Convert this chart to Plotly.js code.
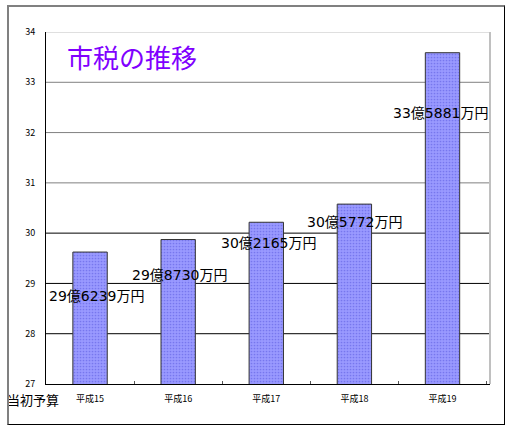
<!DOCTYPE html>
<html>
<head>
<meta charset="utf-8">
<script src="https://cdn.plot.ly/plotly-3.0.1.min.js"></script>
<style>
  html, body { margin: 0; padding: 0; background: #fff; }
  #wrap { position: relative; width: 511px; height: 429px; }
  #chart { position: absolute; left: 0; top: 0; width: 511px; height: 429px; }
  /* 3D-ish frame round the whole chart */
  #frame {
    position: absolute; left: 7px; top: 5px; width: 495px; height: 417px;
    border-top: 2px solid #808080; border-left: 2px solid #808080;
    border-right: 1px solid #000; border-bottom: 1px solid #000;
    pointer-events: none;
  }
</style>
</head>
<body>
<div id="wrap">
  <div id="chart"></div>
  <div id="frame"></div>
</div>
<script>
  "use strict";

  // data (億円)
  let years = ['平成15', '平成16', '平成17', '平成18', '平成19'];
  let amounts = [29.6239, 29.8730, 30.2165, 30.5772, 33.5881];
  let amountLabels = ['29億6239万円', '29億8730万円', '30億2165万円', '30億5772万円', '33億5881万円'];
  let yTicks = [27, 28, 29, 30, 31, 32, 33, 34];

  // label placement relative to the top of each bar, in pixels
  let labelShift = [[6, -44], [1, -35], [2, -21], [0, -18], [-2, -60]];

  let font = '"Noto Sans CJK JP", "Noto Sans", sans-serif';
  let labelFont = '"DejaVu Sans", "Noto Sans CJK JP", sans-serif';

  let trace = {
    type: 'bar',
    x: years,
    y: amounts,
    marker: {
      color: '#9999ff',
      line: {color: '#333333', width: 1},
      pattern: {shape: '.', fgcolor: '#7777ee', bgcolor: '#9999ff', size: 3, solidity: 0.25},
    },
    hoverinfo: 'none',
  };

  // grid lines: lower ones black, upper ones gray, top edge light gray
  let shapes = yTicks.slice(1).map(v => ({
    type: 'line', layer: 'below',
    xref: 'paper', x0: 0, x1: 1,
    yref: 'y', y0: v, y1: v,
    line: {color: v === 34 ? '#c0c0c0' : (v > 30 ? '#808080' : '#000000'), width: 1},
  }));
  // right edge of the plot area
  shapes.push({
    type: 'line', layer: 'below',
    xref: 'paper', x0: 1, x1: 1, yref: 'paper', y0: 0, y1: 1,
    line: {color: '#c0c0c0', width: 2},
  });

  let annotations = amountLabels.map((t, i) => ({
    x: years[i], y: amounts[i], xref: 'x', yref: 'y',
    text: t, showarrow: false,
    xshift: labelShift[i][0], yshift: labelShift[i][1],
    font: {family: labelFont, size: 14, color: '#000'},
  }));
  annotations.push({
    xref: 'paper', yref: 'paper', x: 0.043, y: 0.93, xanchor: 'left', yanchor: 'middle',
    text: '市税の推移', showarrow: false,
    font: {family: font, size: 26, color: '#8000ff'},
  });
  annotations.push({
    xref: 'paper', yref: 'paper', x: -0.093, y: -0.045, xanchor: 'left', yanchor: 'middle',
    text: '当初予算', showarrow: false,
    font: {family: font, size: 13, color: '#000'},
  });

  let layout = {
    width: 511,
    height: 429,
    margin: {l: 46, r: 21, t: 32, b: 45, pad: 0},
    paper_bgcolor: '#ffffff',
    plot_bgcolor: '#ffffff',
    showlegend: false,
    bargap: 0.61,
    xaxis: {
      type: 'category',
      showgrid: false,
      zeroline: false,
      showline: true,
      linecolor: '#000',
      linewidth: 1,
      ticks: 'inside',
      tickson: 'boundaries',
      ticklen: 3,
      tickcolor: '#555',
      ticklabelstandoff: 6,
      tickfont: {family: font, size: 9, color: '#000'},
      fixedrange: true,
    },
    yaxis: {
      range: [27, 34],
      tickvals: yTicks,
      showgrid: false,
      zeroline: false,
      showline: true,
      linecolor: '#000',
      linewidth: 1,
      ticks: '',
      ticklabelstandoff: 8,
      tickfont: {family: font, size: 9, color: '#000'},
      fixedrange: true,
    },
    shapes: shapes,
    annotations: annotations,
  };

  Plotly.newPlot('chart', [trace], layout, {displayModeBar: false, staticPlot: true});
</script>
</body>
</html>
